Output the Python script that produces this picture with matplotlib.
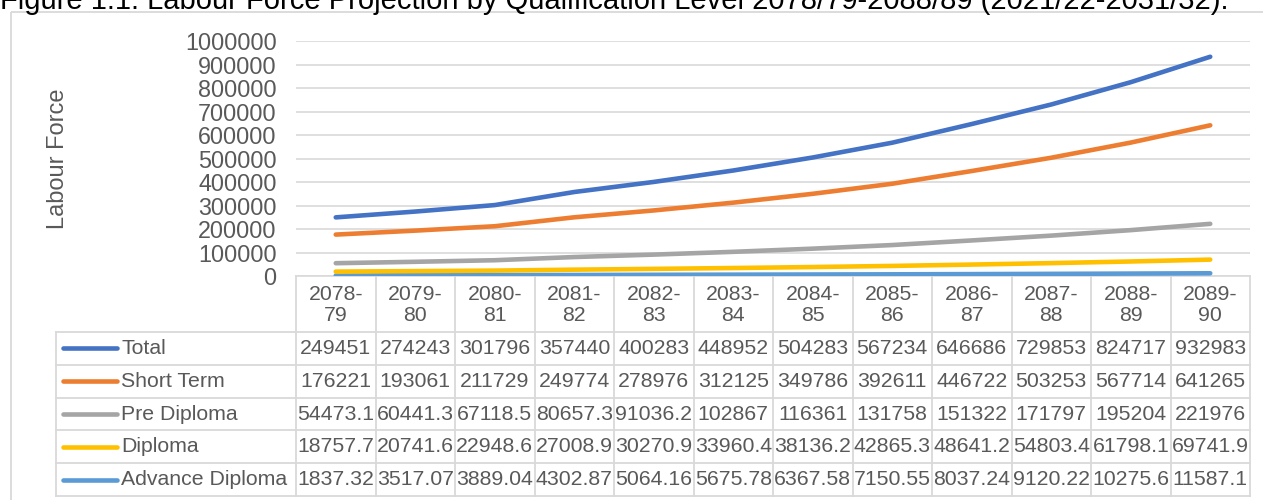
import matplotlib.pyplot as plt
from matplotlib.lines import Line2D
from matplotlib.patches import Rectangle

plt.rcParams["font.family"] = ["Liberation Sans", "DejaVu Sans"]

TEXT = "#595959"
GRID = "#D9D9D9"

years = ["2078-\n79", "2079-\n80", "2080-\n81", "2081-\n82", "2082-\n83", "2083-\n84",
         "2084-\n85", "2085-\n86", "2086-\n87", "2087-\n88", "2088-\n89", "2089-\n90"]

total = [249451, 274243, 301796, 357440, 400283, 448952, 504283, 567234, 646686, 729853, 824717, 932983]
short_term = [176221, 193061, 211729, 249774, 278976, 312125, 349786, 392611, 446722, 503253, 567714, 641265]
pre_diploma = [54473.1, 60441.3, 67118.5, 80657.3, 91036.2, 102867, 116361, 131758, 151322, 171797, 195204, 221976]
diploma = [18757.7, 20741.6, 22948.6, 27008.9, 30270.9, 33960.4, 38136.2, 42865.3, 48641.2, 54803.4, 61798.1, 69741.9]
advance_diploma = [1837.32, 3517.07, 3889.04, 4302.87, 5064.16, 5675.78, 6367.58, 7150.55, 8037.24, 9120.22, 10275.6, 11587.1]

series_names = ["Total", "Short Term", "Pre Diploma", "Diploma", "Advance Diploma"]
series_values = [total, short_term, pre_diploma, diploma, advance_diploma]
colors = ["#4472C4", "#ED7D31", "#A5A5A5", "#FFC000", "#5B9BD5"]

W, H = 1263, 500
fig = plt.figure(figsize=(W / 100, H / 100), dpi=100)

# plot area in pixels
px_left, px_right, px_top, px_bottom = 296, 1250, 41, 276
ax = fig.add_axes([px_left / W, 1 - px_bottom / H, (px_right - px_left) / W, (px_bottom - px_top) / H])

x = list(range(len(years)))
# smaller series first so Total ends up on top
for name, vals, col in reversed(list(zip(series_names, series_values, colors))):
    ax.plot(x, vals, color=col, lw=3.3, solid_capstyle="round", zorder=3)

ax.set_xlim(-0.5, len(years) - 0.5)
ax.set_ylim(0, 1000000)
ax.set_yticks(range(0, 1000001, 100000))
ax.set_yticklabels([str(v) for v in range(0, 1000001, 100000)])
ax.tick_params(axis="y", length=0, pad=14, labelsize=16.8, labelcolor=TEXT)
ax.set_xticks([])
ax.grid(axis="y", color=GRID, lw=1.2)
ax.set_axisbelow(True)
for s in ["top", "right", "left"]:
    ax.spines[s].set_visible(False)
ax.spines["bottom"].set_color(GRID)
ax.spines["bottom"].set_linewidth(1.2)
ax.set_ylabel("Labour Force", fontsize=17, color=TEXT)
ax.yaxis.set_label_coords((69 - px_left) / (px_right - px_left), 0.5)

# overlay in pixel coordinates for the data table and border
ov = fig.add_axes([0, 0, 1, 1], zorder=-1)
ov.set_xlim(0, W)
ov.set_ylim(H, 0)
ov.axis("off")

ov.add_patch(Rectangle((11, 12), W, H, fill=False, ec=GRID, lw=1.3))

col_w = (px_right - px_left) / len(years)
header_bottom = 332
row_h = 32.8
table_left = 56
table_bottom = header_bottom + row_h * len(series_names)

line_kw = dict(color=GRID, lw=1.3)
for i in range(len(years) + 1):
    xx = px_left + i * col_w
    ov.add_line(Line2D([xx, xx], [px_bottom, table_bottom], **line_kw))
ov.add_line(Line2D([table_left, table_left], [header_bottom, table_bottom], **line_kw))
for r in range(len(series_names) + 1):
    yy = header_bottom + r * row_h
    ov.add_line(Line2D([table_left, px_right], [yy, yy], **line_kw))

for i, lab in enumerate(years):
    ov.text(px_left + (i + 0.5) * col_w, (px_bottom + header_bottom) / 2 + 1, lab,
            ha="center", va="center", fontsize=15.3, color=TEXT, linespacing=1.1)

for r, (name, vals, col) in enumerate(zip(series_names, series_values, colors)):
    yc = header_bottom + (r + 0.5) * row_h
    ov.add_line(Line2D([63, 117], [yc, yc], color=col, lw=3.3, solid_capstyle="round"))
    ov.text(121, yc, name, ha="left", va="center", fontsize=15.3, color=TEXT)
    for i, v in enumerate(vals):
        ov.text(px_left + (i + 0.5) * col_w, yc, f"{v:.6g}",
                ha="center", va="center", fontsize=15.3, color=TEXT)

# title is partly cut off by the top edge, as in the source image
fig.text(0, 1 - 9 / H,
         "Figure 1.1: Labour Force Projection by Qualification Level 2078/79-2088/89 (2021/22-2031/32).",
         ha="left", va="baseline", fontsize=21, color="black")

fig.savefig("out.png", dpi=100)
